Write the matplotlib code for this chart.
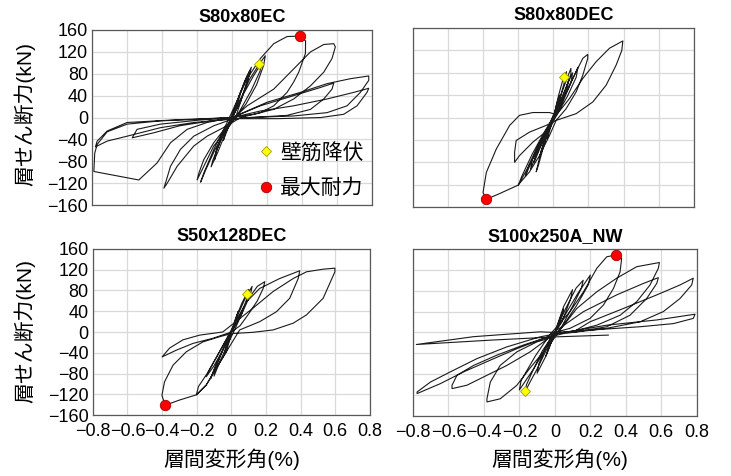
import numpy as np
import matplotlib
matplotlib.use('Agg')
import matplotlib.pyplot as plt
from matplotlib.lines import Line2D

plt.rcParams['font.family'] = ['Liberation Sans', 'Noto Sans CJK JP']

# --- S80x80EC --- (drift %, shear kN)
ec_drift = [0, 0.03, 0.05, 0.04, 0.01, -0.03, -0.05, -0.04, -0.01,
            0.04, 0.08, 0.1, 0.09, 0.05, 0, -0.05, -0.09, -0.1, -0.09, -0.05, 0,
            0.03, 0.07, 0.11, 0.1, 0.06, 0.01, -0.04, -0.08, -0.12, -0.11, -0.07, -0.01,
            0.05, 0.1, 0.156, 0.19, 0.18, 0.14, 0.08, 0.02,
            -0.029, -0.105, -0.162, -0.2, -0.19, -0.162, -0.105, -0.029, 0.02,
            0.06, 0.12, 0.17, 0.16, 0.11, 0.04, -0.04, -0.1, -0.15, -0.18, -0.16, -0.1, -0.03,
            0.086, 0.162, 0.238, 0.314, 0.39, 0.42, 0.419, 0.381, 0.352, 0.314, 0.238, 0.162, 0.048,
            -0.029, -0.143, -0.219, -0.314, -0.371, -0.39, -0.381, -0.352, -0.295, -0.219, -0.105, 0,
            0.086, 0.238, 0.352, 0.448, 0.524, 0.581, 0.59, 0.571, 0.524, 0.448, 0.352, 0.238, 0.124, 0,
            -0.143, -0.257, -0.352, -0.429, -0.533, -0.79, -0.785, -0.771, -0.714, -0.6, -0.41, -0.181, 0,
            0.162, 0.352, 0.505, 0.581, 0.571, 0.524, 0.448, 0.314, 0.1,
            -0.1, -0.3, -0.45, -0.571, -0.543, -0.41, -0.2, 0,
            0.2, 0.39, 0.543, 0.676, 0.781, 0.781, 0.733, 0.657, 0.543, 0.352, 0.1,
            -0.219, -0.41, -0.6, -0.714, -0.781, -0.771, -0.714, -0.6, -0.314, 0,
            0.162, 0.352, 0.543, 0.695, 0.781, 0.771, 0.714, 0.638, 0.505, 0.257, 0]
ec_shear = [0, 30, 48, 35, 5, -25, -42, -30, -3,
            40, 72, 85, 70, 30, 0, -30, -62, -77, -60, -25, 0,
            30, 65, 92, 78, 40, 5, -30, -62, -90, -78, -45, -5,
            35, 70, 98, 113, 95, 60, 25, 0,
            -21.5, -52, -89, -114, -101.5, -77, -46, -15, 0,
            40, 75, 100, 85, 50, 10, -25, -60, -95, -118, -100, -55, -10,
            71, 108, 135, 148, 149, 140, 117, 83, 65, 46, 21.5, 9, 0,
            -15, -34, -52, -89, -120, -129, -120, -89, -58, -34, -15, -3,
            21.5, 52, 89, 120, 133.5, 135, 129, 108, 83, 58, 34, 15, 6, 0,
            -9, -21.5, -46, -83, -114, -98.5, -65, -49, -26, -12, -6, -3, 0,
            21.5, 40, 55, 63, 52, 34, 15, 4, 0,
            -5, -15, -28, -37, -21.5, -12, -5, 0,
            28, 46, 62, 71, 76, 68, 46, 21.5, 9, 3, 0,
            -9, -18.5, -34, -43, -53.5, -43, -24.6, -9, -4, 0,
            12, 21.5, 34, 46, 53.5, 46, 21.5, 6, 0, -2, -2]
ec_yield = (0.156, 98)
ec_max = (0.39, 149)

# --- S80x80DEC ---
dec_drift = [0, 0.02, 0.035, 0.025, 0, -0.02, -0.035, -0.025, 0,
             0.03, 0.058, 0.075, 0.06, 0.02, -0.03, -0.06, -0.08, -0.06, -0.02,
             0.016, 0.06, 0.1, 0.1, 0.07, 0.03, 0,
             -0.03, -0.07, -0.098, -0.085, -0.05, -0.01,
             0.03, 0.07, 0.09, 0.08, 0.04, -0.02, -0.07, -0.11, -0.1, -0.05, 0,
             0.04, 0.08, 0.11, 0.1, 0.05, -0.02, -0.08, -0.13, -0.12, -0.06, -0.01,
             0.016, 0.073, 0.13, 0.168, 0.196, 0.196, 0.168, 0.13, 0.073, 0.016,
             -0.041, -0.136, -0.212, -0.221, -0.221, -0.193, -0.117, -0.022,
             -0.05, -0.12, -0.2, -0.18, -0.12, -0.05, 0,
             0.05, 0.1, 0.14, 0.13, 0.08, 0.02, -0.05, -0.1, -0.16, -0.14, -0.08, -0.02,
             0.092, 0.168, 0.244, 0.32, 0.396, 0.39, 0.358, 0.301, 0.225, 0.13, 0.016,
             -0.022, -0.079, -0.136, -0.202, -0.307, -0.382, -0.401, -0.382, -0.325, -0.249, -0.193,
             -0.117, -0.022, 0.02]
dec_shear = [0, 25, 40, 25, 0, -22, -38, -22, 0,
             40, 72, 82, 60, 15, -25, -55, -72, -50, -10,
             16, 55, 88, 78, 50, 15, 0,
             -25, -60, -97, -85, -45, -8,
             20, 50, 70, 55, 20, -20, -50, -80, -65, -30, 0,
             30, 60, 80, 62, 25, -15, -55, -92, -75, -35, -5,
             16, 46, 82, 106, 113, 106, 76, 46, 16, -5,
             -14, -26, -41, -62, -80, -68, -44, -20,
             -35, -75, -121, -105, -65, -25, 0,
             30, 62, 90, 72, 38, 5, -30, -60, -105, -85, -45, -10,
             34, 70, 100, 124, 137, 120, 94, 58, 28, 7, -5,
             -32, -68, -97, -121, -136, -146, -134, -98, -56, -14, 4,
             9, 9, 5]
dec_yield = (0.058, 72)
dec_max = (-0.382, -146)

# --- S50x128DEC ---
s50_drift = [0, 0.02, 0.04, 0.03, 0, -0.02, -0.04, -0.03, 0,
             0.03, 0.06, 0.089, 0.1, 0.09, 0.06, 0.02,
             -0.03, -0.07, -0.1, -0.09, -0.05, 0,
             0.04, 0.08, 0.12, 0.11, 0.06, 0.01, -0.05, -0.09, -0.12, -0.1, -0.05, 0,
             0.03, 0.087, 0.15, 0.193, 0.185, 0.15, 0.1, 0.05, 0,
             -0.05, -0.1, -0.145, -0.13, -0.08, -0.02,
             0.087, 0.164, 0.279, 0.395, 0.386, 0.337, 0.26, 0.164, 0.048,
             -0.029, -0.087, -0.145, -0.202, -0.19, -0.14, -0.08, -0.02, 0,
             -0.106, -0.222, -0.318, -0.4, -0.357, -0.279, -0.183, -0.05,
             0.125, 0.241, 0.357, 0.434, 0.53, 0.598, 0.598, 0.53, 0.434, 0.357, 0.241, 0.125, 0,
             -0.029, -0.087, -0.145, -0.202, -0.299, -0.382, -0.401, -0.386, -0.337, -0.26, -0.164,
             -0.067, 0]
s50_shear = [0, 22, 40, 28, 0, -22, -40, -28, 0,
             30, 55, 74, 82, 65, 35, 5,
             -30, -60, -85, -70, -35, 0,
             35, 65, 88, 72, 35, 5, -35, -65, -90, -72, -35, 0,
             20, 58, 88, 97, 85, 60, 35, 12, 0,
             -35, -65, -86, -75, -45, -8,
             58, 84, 103, 118, 103, 65, 39, 20, 4,
             -38, -70, -102, -121, -105, -80, -45, -10, 0,
             -12, -22, -35, -48, -31, -15, -6, 0,
             46, 78, 103, 116, 121, 123, 116, 65, 33, 17, 4, -0.6, -3,
             -38, -70, -102, -121, -131, -141, -122, -96, -64, -38, -19,
             -9, -3]
s50_yield = (0.089, 74)
s50_max = (-0.382, -141)

# --- S100x250A_NW ---
nw_drift = [0, 0.03, 0.05, 0.035, 0, -0.03, -0.05, -0.035, 0,
            0.05, 0.1, 0.09, 0.04, 0, -0.05, -0.1, -0.09, -0.04, 0,
            0.06, 0.12, 0.16, 0.15, 0.1, 0.04,
            -0.05, -0.1, -0.14, -0.167, -0.16, -0.12, -0.07, 0,
            0.06, 0.13, 0.2, 0.19, 0.12, 0.04, -0.05, -0.12, -0.2, -0.19, -0.11, -0.03,
            0.086, 0.162, 0.237, 0.293, 0.346, 0.377, 0.368, 0.331, 0.274, 0.199, 0.086, 0,
            -0.064, -0.142, -0.214, -0.308, -0.383, -0.383, -0.364, -0.308, -0.214, -0.101, 0,
            0.124, 0.237, 0.349, 0.462, 0.59, 0.584, 0.537, 0.462, 0.368, 0.237, 0.105, 0,
            -0.139, -0.27, -0.383, -0.496, -0.58, -0.58, -0.552, -0.458, -0.327, -0.177, -0.05,
            0.162, 0.349, 0.5, 0.584, 0.575, 0.518, 0.424, 0.293, 0.1,
            0.199, 0.387, 0.575, 0.706, 0.781, 0.772, 0.706, 0.612, 0.481, 0.293, 0.05,
            -0.064, -0.214, -0.364, -0.515, -0.646, -0.777, -0.777, -0.702, -0.59, -0.439, -0.27,
            -0.083, 0,
            0.293, 0.575, 0.791, 0.781, 0.669, 0.481, 0.199, 0,
            -0.082, -0.458, -0.781, -0.364, 0.011, 0.302]
nw_shear = [0, 28, 45, 28, 0, -28, -45, -28, 0,
            50, 82, 65, 20, 0, -45, -78, -60, -20, 0,
            45, 85, 100, 85, 50, 12,
            -35, -70, -95, -113, -100, -70, -35, 0,
            35, 75, 110, 92, 50, 10, -30, -70, -110, -92, -45, -5,
            40, 78, 123, 145, 148.5, 142, 116, 84.5, 52.5, 27, 8, 0,
            -37, -69, -101, -127, -133, -127, -95, -63, -37, -18, -8,
            46, 78, 104, 126, 134, 123, 91, 59, 33, 14, 2.5, -2,
            -37, -63, -82, -101, -107.5, -101, -82, -63, -43.5, -24, -10,
            40, 72, 94, 105, 94, 65, 33, 11, 0,
            20.5, 46, 72, 91, 104, 91, 65, 40, 20.5, 8, -2,
            -11.5, -31, -53, -75.5, -98, -117, -114, -95, -75.5, -50, -27.5,
            -8.3, -3,
            14, 24, 35, 27, 17, 11, 4.5, 0,
            1.3, -8, -23, -14.7, -8.3, -5]
nw_yield = (-0.167, -113)
nw_max = (0.346, 148)

panels = [
    ('S80x80EC', ec_drift, ec_shear, ec_yield, ec_max, [0.126, 0.569, 0.383, 0.368]),
    ('S80x80DEC', dec_drift, dec_shear, dec_yield, dec_max, [0.565, 0.565, 0.384, 0.376]),
    ('S50x128DEC', s50_drift, s50_shear, s50_yield, s50_max, [0.127, 0.128, 0.379, 0.349]),
    ('S100x250A_NW', nw_drift, nw_shear, nw_yield, nw_max, [0.565, 0.126, 0.388, 0.351]),
]

x_labels = ['\u22120.8', '\u22120.6', '\u22120.4', '\u22120.2', '0', '0.2', '0.4', '0.6', '0.8']

fig = plt.figure(figsize=(7.31, 4.76), dpi=100)

for i, (title, dx, sy, yld, mx, rect) in enumerate(panels):
    ax = fig.add_axes(rect)
    ax.plot(dx, sy, color='#1a1a1a', lw=0.8, zorder=2)
    ax.plot(*yld, marker='D', ms=5.5, mfc='#ffff00', mec='#a0a000', mew=0.6, ls='none', zorder=3)
    ax.plot(*mx, marker='o', ms=7.5, mfc='#ff0000', mec='#a00000', mew=0.6, ls='none', zorder=3)
    ax.set_xlim(-0.8, 0.8)
    ax.set_ylim(-160, 160)
    ax.set_xticks(np.arange(-0.8, 0.81, 0.2))
    ax.set_yticks(np.arange(-160, 161, 40))
    ax.set_xticklabels(x_labels)
    ax.grid(True, color='#d9d9d9', lw=0.9)
    ax.set_axisbelow(True)
    for s in ax.spines.values():
        s.set_color('#595959')
        s.set_linewidth(0.9)
    ax.tick_params(length=0, labelsize=13)
    ax.tick_params(axis='x', pad=6)
    ax.tick_params(axis='y', pad=3)
    if i < 2:
        ax.tick_params(labelbottom=False)
        ax.set_title(title, fontsize=13, fontweight='bold', pad=6, x=0.5 + 10 / 280)
    else:
        ax.set_title(title, fontsize=13, fontweight='bold', pad=6)
    if i % 2 == 1:
        ax.tick_params(labelleft=False)
    if i == 0:
        handles = [Line2D([], [], marker='D', ms=5.5, mfc='#ffff00', mec='#a0a000', mew=0.6, ls='none'),
                   Line2D([], [], marker='o', ms=7.5, mfc='#ff0000', mec='#a00000', mew=0.6, ls='none')]
        ax.legend(handles, ['壁筋降伏', '最大耐力'], loc='lower left', bbox_to_anchor=(0.523, -0.065),
                  frameon=False, fontsize=15, handlelength=0.8, handletextpad=0.3, labelspacing=0.75)

fig.text(25 / 731, 1 - 114 / 476, '層せん断力(kN)', rotation=90, ha='center', va='center', fontsize=15)
fig.text(25 / 731, 1 - 331 / 476, '層せん断力(kN)', rotation=90, ha='center', va='center', fontsize=15)
fig.text(232 / 731, 1 - 459 / 476, '層間変形角(%)', ha='center', va='center', fontsize=15)
fig.text(560 / 731, 1 - 459 / 476, '層間変形角(%)', ha='center', va='center', fontsize=15)

fig.savefig('out.png', dpi=100)
